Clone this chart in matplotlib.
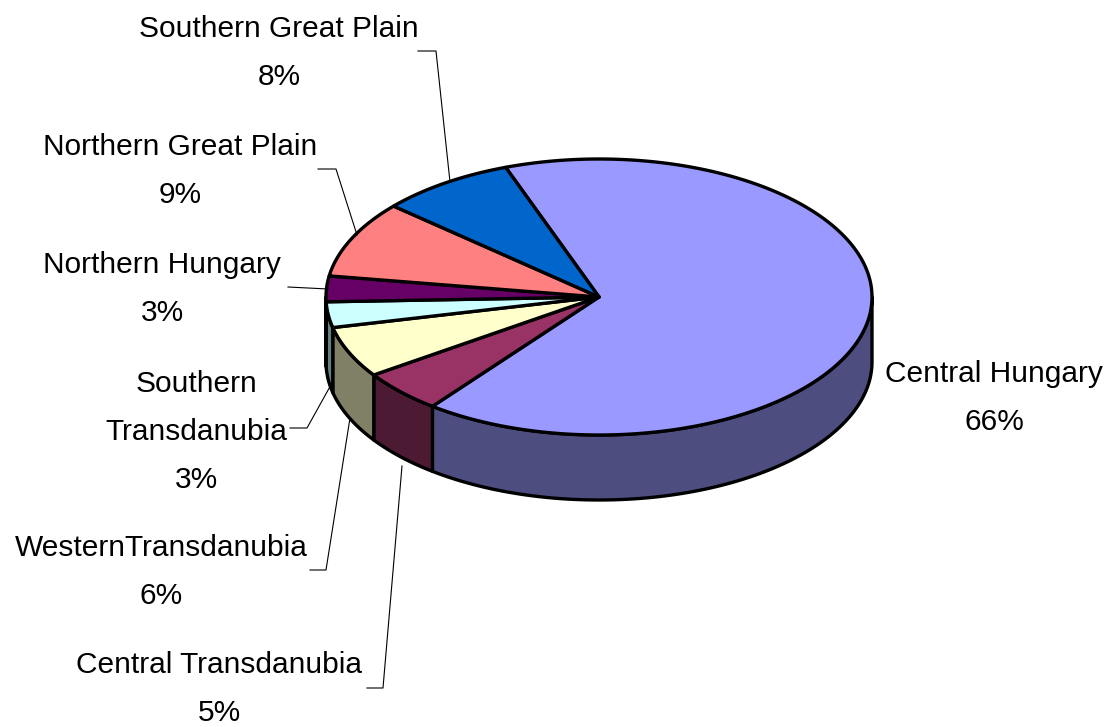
import numpy as np
import matplotlib
matplotlib.use("Agg")
import matplotlib.pyplot as plt
from matplotlib.patches import Polygon
from matplotlib.colors import to_rgb

# Regional shares (%)
regions = ["Central Hungary", "Central Transdanubia", "Western Transdanubia",
           "Southern Transdanubia", "Northern Hungary", "Northern Great Plain",
           "Southern Great Plain"]
shares = [66, 5, 6, 3, 3, 9, 8]
colors = ["#9999FF", "#993366", "#FFFFCC", "#CCFFFF", "#660066", "#FF8080", "#0066CC"]

# label text as shown on the chart (lines)
label_lines = [["Central Hungary"], ["Central Transdanubia"], ["WesternTransdanubia"],
               ["Southern", "Transdanubia"], ["Northern Hungary"],
               ["Northern Great Plain"], ["Southern Great Plain"]]

# layout (pixels): text centre x, first baseline y, leader line points
label_pos = [(994, 382), (219, 673), (161, 556), (196, 392), (162, 273), (180, 155), (279, 37)]
leaders = [None,
           [(367, 688), (383, 688), (402, 466)],
           [(310, 570), (326, 570), (350, 418)],
           [(290, 428), (307, 428), (332, 383)],
           [(288, 287), (328, 289)],
           [(318, 169), (336, 169), (357, 235)],
           [(418, 51), (436, 51), (450, 182)]]

cx, cy, rx, ry, depth = 599, 297, 273, 138, 65
start = 110.0

plt.rcParams['font.family'] = ['Liberation Sans', 'DejaVu Sans']

fig = plt.figure(figsize=(11.1, 7.27), dpi=100)
ax = fig.add_axes([0, 0, 1, 1])
ax.set_xlim(0, 1110)
ax.set_ylim(727, 0)
ax.axis('off')


def pt(t, dz=0):
    r = np.radians(t)
    return cx + rx * np.cos(r), cy - ry * np.sin(r) + dz


# slice angle ranges (clockwise from start)
bounds = start - np.concatenate([[0], np.cumsum(shares)]) * 3.6
ranges = [(bounds[i + 1], bounds[i]) for i in range(len(shares))]

# side faces (front half only)
for (lo, hi), c in zip(ranges, colors):
    side = tuple(v * 0.5 for v in to_rgb(c))
    for k in (-1, 0, 1):
        a, b = max(lo, -180 + 360 * k), min(hi, 360 * k)
        if b - a <= 0:
            continue
        t = np.linspace(a, b, 100)
        top = np.column_stack(pt(t))
        bot = np.column_stack(pt(t, depth))[::-1]
        ax.add_patch(Polygon(np.vstack([top, bot]), closed=True, fc=side,
                             ec='black', lw=2.4, joinstyle='round'))

# top faces
for (lo, hi), c in zip(ranges, colors):
    t = np.linspace(lo, hi, 200)
    arc = np.column_stack(pt(t))
    verts = np.vstack([[cx, cy], arc])
    ax.add_patch(Polygon(verts, closed=True, fc=c, ec='black', lw=2.4, joinstyle='round'))

# labels
for lines, share, (x, y), lead in zip(label_lines, shares, label_pos, leaders):
    for i, s in enumerate(lines + [f"{share}%"]):
        ax.text(x, y + 48 * i, s, ha='center', va='baseline', fontsize=21.5, color='black')
    if lead:
        xs, ys = zip(*lead)
        ax.plot(xs, ys, color='black', lw=0.8)

fig.savefig("out.png", dpi=100)
